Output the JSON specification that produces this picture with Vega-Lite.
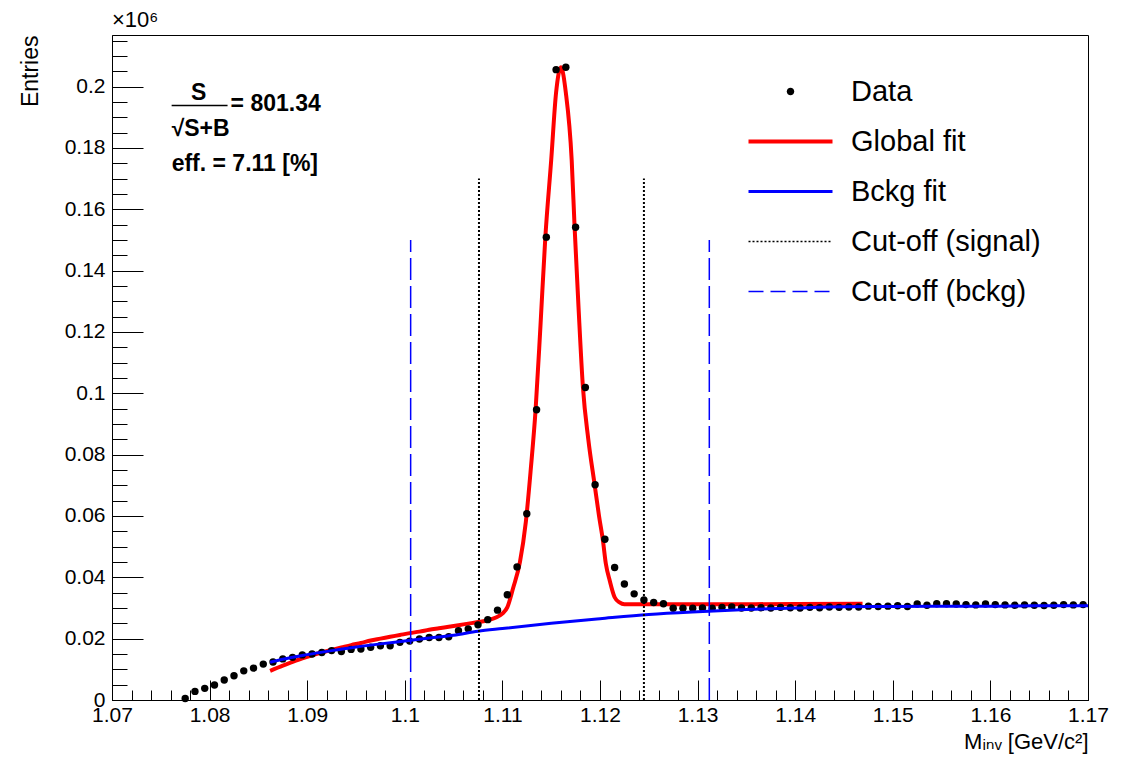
{
  "$schema": "https://vega.github.io/schema/vega-lite/v6.json",
  "width": 976,
  "height": 665,
  "autosize": {"type": "none"},
  "padding": {"left": 112, "top": 35, "right": 48, "bottom": 66},
  "background": "white",
  "config": {
    "view": {"stroke": "#000", "strokeWidth": 1},
    "font": "Liberation Sans",
    "axis": {"grid": false, "tickColor": "#000", "domainColor": "#000", "labelColor": "#000", "titleColor": "#000", "labelFont": "Liberation Sans", "titleFont": "Liberation Sans, DejaVu Sans"}
  },
  "title": {"text": "×10⁶", "anchor": "start", "frame": "group", "fontSize": 22, "fontWeight": "normal", "font": "Liberation Sans, DejaVu Sans", "offset": 3, "color": "#000"},
  "datasets": {
    "points": [
      {"x": 1.0775, "y": 0.0005, "series": "Data"}, {"x": 1.0785, "y": 0.0028, "series": "Data"}, {"x": 1.0795, "y": 0.0038, "series": "Data"}, {"x": 1.0805, "y": 0.0049, "series": "Data"},
      {"x": 1.0815, "y": 0.0065, "series": "Data"}, {"x": 1.0825, "y": 0.0079, "series": "Data"}, {"x": 1.0835, "y": 0.0095, "series": "Data"}, {"x": 1.0845, "y": 0.0104, "series": "Data"},
      {"x": 1.0855, "y": 0.0117, "series": "Data"}, {"x": 1.0865, "y": 0.0124, "series": "Data"}, {"x": 1.0875, "y": 0.0134, "series": "Data"}, {"x": 1.0885, "y": 0.0139, "series": "Data"},
      {"x": 1.0895, "y": 0.0147, "series": "Data"}, {"x": 1.0905, "y": 0.0150, "series": "Data"}, {"x": 1.0915, "y": 0.0155, "series": "Data"}, {"x": 1.0925, "y": 0.0161, "series": "Data"},
      {"x": 1.0935, "y": 0.0158, "series": "Data"}, {"x": 1.0945, "y": 0.0165, "series": "Data"}, {"x": 1.0955, "y": 0.0166, "series": "Data"}, {"x": 1.0965, "y": 0.0172, "series": "Data"},
      {"x": 1.0975, "y": 0.0177, "series": "Data"}, {"x": 1.0985, "y": 0.0177, "series": "Data"}, {"x": 1.0995, "y": 0.0188, "series": "Data"}, {"x": 1.1005, "y": 0.0192, "series": "Data"},
      {"x": 1.1015, "y": 0.0199, "series": "Data"}, {"x": 1.1025, "y": 0.0204, "series": "Data"}, {"x": 1.1035, "y": 0.0204, "series": "Data"}, {"x": 1.1045, "y": 0.0206, "series": "Data"},
      {"x": 1.1055, "y": 0.0226, "series": "Data"}, {"x": 1.1065, "y": 0.0232, "series": "Data"}, {"x": 1.1075, "y": 0.0245, "series": "Data"}, {"x": 1.1085, "y": 0.0262, "series": "Data"},
      {"x": 1.1095, "y": 0.0293, "series": "Data"}, {"x": 1.1105, "y": 0.0343, "series": "Data"}, {"x": 1.1115, "y": 0.0434, "series": "Data"}, {"x": 1.1125, "y": 0.0607, "series": "Data"},
      {"x": 1.1135, "y": 0.0946, "series": "Data"}, {"x": 1.1145, "y": 0.1509, "series": "Data"}, {"x": 1.1155, "y": 0.2055, "series": "Data"}, {"x": 1.1165, "y": 0.2063, "series": "Data"},
      {"x": 1.1175, "y": 0.1541, "series": "Data"}, {"x": 1.1185, "y": 0.1019, "series": "Data"}, {"x": 1.1195, "y": 0.0702, "series": "Data"}, {"x": 1.1205, "y": 0.0524, "series": "Data"},
      {"x": 1.1215, "y": 0.0432, "series": "Data"}, {"x": 1.1225, "y": 0.0378, "series": "Data"}, {"x": 1.1235, "y": 0.0346, "series": "Data"}, {"x": 1.1245, "y": 0.0326, "series": "Data"},
      {"x": 1.1255, "y": 0.0318, "series": "Data"}, {"x": 1.1265, "y": 0.0314, "series": "Data"}, {"x": 1.1275, "y": 0.0299, "series": "Data"}, {"x": 1.1285, "y": 0.0299, "series": "Data"},
      {"x": 1.1295, "y": 0.0299, "series": "Data"}, {"x": 1.1305, "y": 0.0300, "series": "Data"}, {"x": 1.1315, "y": 0.0299, "series": "Data"}, {"x": 1.1325, "y": 0.0302, "series": "Data"},
      {"x": 1.1335, "y": 0.0303, "series": "Data"}, {"x": 1.1345, "y": 0.0300, "series": "Data"}, {"x": 1.1355, "y": 0.0300, "series": "Data"}, {"x": 1.1365, "y": 0.0301, "series": "Data"},
      {"x": 1.1375, "y": 0.0300, "series": "Data"}, {"x": 1.1385, "y": 0.0302, "series": "Data"}, {"x": 1.1395, "y": 0.0301, "series": "Data"}, {"x": 1.1405, "y": 0.0300, "series": "Data"},
      {"x": 1.1415, "y": 0.0302, "series": "Data"}, {"x": 1.1425, "y": 0.0301, "series": "Data"}, {"x": 1.1435, "y": 0.0303, "series": "Data"}, {"x": 1.1445, "y": 0.0302, "series": "Data"},
      {"x": 1.1455, "y": 0.0303, "series": "Data"}, {"x": 1.1465, "y": 0.0303, "series": "Data"}, {"x": 1.1475, "y": 0.0306, "series": "Data"}, {"x": 1.1485, "y": 0.0305, "series": "Data"},
      {"x": 1.1495, "y": 0.0306, "series": "Data"}, {"x": 1.1505, "y": 0.0307, "series": "Data"}, {"x": 1.1515, "y": 0.0305, "series": "Data"}, {"x": 1.1525, "y": 0.0313, "series": "Data"},
      {"x": 1.1535, "y": 0.0309, "series": "Data"}, {"x": 1.1545, "y": 0.0314, "series": "Data"}, {"x": 1.1555, "y": 0.0314, "series": "Data"}, {"x": 1.1565, "y": 0.0313, "series": "Data"},
      {"x": 1.1575, "y": 0.0311, "series": "Data"}, {"x": 1.1585, "y": 0.0310, "series": "Data"}, {"x": 1.1595, "y": 0.0313, "series": "Data"}, {"x": 1.1605, "y": 0.0311, "series": "Data"},
      {"x": 1.1615, "y": 0.0310, "series": "Data"}, {"x": 1.1625, "y": 0.0309, "series": "Data"}, {"x": 1.1635, "y": 0.0310, "series": "Data"}, {"x": 1.1645, "y": 0.0309, "series": "Data"},
      {"x": 1.1655, "y": 0.0308, "series": "Data"}, {"x": 1.1665, "y": 0.0309, "series": "Data"}, {"x": 1.1675, "y": 0.0311, "series": "Data"}, {"x": 1.1685, "y": 0.0310, "series": "Data"},
      {"x": 1.1695, "y": 0.0311, "series": "Data"}
    ],
    "globalfit": [
      {"x": 1.0862, "y": 0.0095, "series": "Global fit"}, {"x": 1.0875, "y": 0.0112, "series": "Global fit"}, {"x": 1.0885, "y": 0.0124, "series": "Global fit"}, {"x": 1.0895, "y": 0.0136, "series": "Global fit"},
      {"x": 1.0905, "y": 0.0146, "series": "Global fit"}, {"x": 1.0915, "y": 0.0155, "series": "Global fit"}, {"x": 1.0925, "y": 0.0163, "series": "Global fit"}, {"x": 1.0935, "y": 0.0171, "series": "Global fit"},
      {"x": 1.0945, "y": 0.0179, "series": "Global fit"}, {"x": 1.0955, "y": 0.0186, "series": "Global fit"}, {"x": 1.0965, "y": 0.0194, "series": "Global fit"}, {"x": 1.0975, "y": 0.0200, "series": "Global fit"},
      {"x": 1.0985, "y": 0.0206, "series": "Global fit"}, {"x": 1.0995, "y": 0.0212, "series": "Global fit"}, {"x": 1.1005, "y": 0.0218, "series": "Global fit"}, {"x": 1.1015, "y": 0.0223, "series": "Global fit"},
      {"x": 1.1025, "y": 0.0229, "series": "Global fit"}, {"x": 1.1035, "y": 0.0234, "series": "Global fit"}, {"x": 1.1045, "y": 0.0239, "series": "Global fit"}, {"x": 1.1055, "y": 0.0244, "series": "Global fit"},
      {"x": 1.1065, "y": 0.0249, "series": "Global fit"}, {"x": 1.1075, "y": 0.0254, "series": "Global fit"}, {"x": 1.1085, "y": 0.0260, "series": "Global fit"}, {"x": 1.1094, "y": 0.0270, "series": "Global fit"},
      {"x": 1.1100, "y": 0.0282, "series": "Global fit"}, {"x": 1.1105, "y": 0.0302, "series": "Global fit"}, {"x": 1.1111, "y": 0.0365, "series": "Global fit"}, {"x": 1.1118, "y": 0.0450, "series": "Global fit"},
      {"x": 1.1124, "y": 0.0580, "series": "Global fit"}, {"x": 1.1129, "y": 0.0750, "series": "Global fit"}, {"x": 1.1134, "y": 0.0946, "series": "Global fit"}, {"x": 1.1139, "y": 0.1220, "series": "Global fit"},
      {"x": 1.1144, "y": 0.1509, "series": "Global fit"}, {"x": 1.1150, "y": 0.1760, "series": "Global fit"}, {"x": 1.1155, "y": 0.1980, "series": "Global fit"}, {"x": 1.1160, "y": 0.2063, "series": "Global fit"},
      {"x": 1.1165, "y": 0.1980, "series": "Global fit"}, {"x": 1.1171, "y": 0.1760, "series": "Global fit"}, {"x": 1.1174, "y": 0.1540, "series": "Global fit"}, {"x": 1.1178, "y": 0.1280, "series": "Global fit"},
      {"x": 1.11825, "y": 0.1020, "series": "Global fit"}, {"x": 1.1188, "y": 0.0850, "series": "Global fit"}, {"x": 1.11945, "y": 0.0702, "series": "Global fit"}, {"x": 1.1199, "y": 0.0600, "series": "Global fit"},
      {"x": 1.1203, "y": 0.0520, "series": "Global fit"}, {"x": 1.1206, "y": 0.0444, "series": "Global fit"}, {"x": 1.1210, "y": 0.0389, "series": "Global fit"}, {"x": 1.1215, "y": 0.0335, "series": "Global fit"},
      {"x": 1.1220, "y": 0.0318, "series": "Global fit"}, {"x": 1.1225, "y": 0.0312, "series": "Global fit"}, {"x": 1.1300, "y": 0.0312, "series": "Global fit"}, {"x": 1.1400, "y": 0.0313, "series": "Global fit"},
      {"x": 1.1469, "y": 0.0314, "series": "Global fit"}
    ],
    "bkgfit": [
      {"x": 1.0862, "y": 0.0123, "series": "Bckg fit"}, {"x": 1.0875, "y": 0.0133, "series": "Bckg fit"}, {"x": 1.0900, "y": 0.0148, "series": "Bckg fit"}, {"x": 1.0925, "y": 0.0161, "series": "Bckg fit"},
      {"x": 1.0950, "y": 0.0173, "series": "Bckg fit"}, {"x": 1.0975, "y": 0.0183, "series": "Bckg fit"}, {"x": 1.1000, "y": 0.0192, "series": "Bckg fit"}, {"x": 1.1025, "y": 0.0202, "series": "Bckg fit"},
      {"x": 1.1050, "y": 0.0211, "series": "Bckg fit"}, {"x": 1.1075, "y": 0.0224, "series": "Bckg fit"}, {"x": 1.1100, "y": 0.0233, "series": "Bckg fit"}, {"x": 1.1150, "y": 0.0250, "series": "Bckg fit"},
      {"x": 1.1200, "y": 0.0265, "series": "Bckg fit"}, {"x": 1.1250, "y": 0.0279, "series": "Bckg fit"}, {"x": 1.1300, "y": 0.0288, "series": "Bckg fit"}, {"x": 1.1350, "y": 0.0295, "series": "Bckg fit"},
      {"x": 1.1400, "y": 0.0300, "series": "Bckg fit"}, {"x": 1.1450, "y": 0.0304, "series": "Bckg fit"}, {"x": 1.1500, "y": 0.0305, "series": "Bckg fit"}, {"x": 1.1550, "y": 0.0306, "series": "Bckg fit"},
      {"x": 1.1600, "y": 0.0306, "series": "Bckg fit"}, {"x": 1.1650, "y": 0.0307, "series": "Bckg fit"}, {"x": 1.1700, "y": 0.0307, "series": "Bckg fit"}
    ],
    "cutsignal": [{"x": 1.1076, "low": 0, "top": 0.17, "series": "Cut-off (signal)"}, {"x": 1.1245, "low": 0, "top": 0.17, "series": "Cut-off (signal)"}],
    "cutbkg": [{"x": 1.1006, "low": 0, "top": 0.15, "series": "Cut-off (bckg)"}, {"x": 1.1312, "low": 0, "top": 0.15, "series": "Cut-off (bckg)"}],
    "fracbar": [{"x": 1.07611, "y": 0.1938}, {"x": 1.08184, "y": 0.1938}],
    "one": [{"k": 1}]
  },
  "layer": [
    {
      "data": {"name": "globalfit"},
      "mark": {"type": "line", "strokeWidth": 4, "interpolate": "monotone"},
      "encoding": {
        "x": {"field": "x", "type": "quantitative",
          "scale": {"domain": [1.07, 1.17], "nice": false, "zero": false},
          "axis": {"values": [1.07, 1.08, 1.09, 1.1, 1.11, 1.12, 1.13, 1.14, 1.15, 1.16, 1.17], "format": "~g",
            "tickSize": -20, "labelPadding": 24, "labelFontSize": 21, "labelFlush": false, "labelOverlap": false,
            "title": "Mᵢₙᵥ [GeV/c²]", "titleAnchor": "end", "titleFontSize": 22, "titleFontWeight": "normal", "titlePadding": 6}},
        "y": {"field": "y", "type": "quantitative",
          "scale": {"domain": [0, 0.2168], "nice": false},
          "axis": {"values": [0, 0.02, 0.04, 0.06, 0.08, 0.1, 0.12, 0.14, 0.16, 0.18, 0.2], "format": "~g",
            "tickSize": -31, "labelPadding": 38, "labelFontSize": 21, "labelFlush": false, "labelOverlap": false,
            "title": "Entries", "titleAnchor": "end", "titleFontSize": 23, "titleFontWeight": "normal", "titlePadding": 22}},
        "color": {"field": "series", "type": "nominal",
          "scale": {"domain": ["Data", "Global fit", "Bckg fit", "Cut-off (signal)", "Cut-off (bckg)"],
                    "range": ["#000000", "#ff0000", "#0000ff", "#000000", "#0000ff"]},
          "legend": {"title": null, "orient": "none", "legendX": 606, "legendY": 34, "direction": "vertical",
            "fillColor": "white", "padding": 8, "symbolSize": 900, "symbolStrokeWidth": 2,
            "symbolOffset": 50, "labelOffset": 46, "rowPadding": 20,
            "labelFontSize": 29, "labelFont": "Liberation Sans", "labelColor": "#000", "labelLimit": 400,
            "labelExpr": "datum.label == 'Cut-off (signal)' ? datum.label + '\u00a0\u00a0\u00a0\u00a0\u00a0\u00a0\u00a0\u00a0\u00a0\u00a0' : datum.label",
            "encode": {"symbols": {"update": {
              "shape": {"signal": "datum.value == 'Data' ? 'M-0.25,0A0.25,0.25 0 1,0 0.25,0A0.25,0.25 0 1,0 -0.25,0Z' : 'M-2.8,0H2.8'"},
              "fill": {"signal": "datum.value == 'Data' ? '#000000' : 'transparent'"},
              "stroke": {"signal": "datum.value == 'Global fit' ? '#ff0000' : (datum.value == 'Bckg fit' || datum.value == 'Cut-off (bckg)') ? '#0000ff' : '#000000'"},
              "strokeWidth": {"signal": "datum.value == 'Data' ? 0 : datum.value == 'Global fit' ? 4 : datum.value == 'Bckg fit' ? 3 : 1.5"},
              "strokeDash": {"signal": "datum.value == 'Cut-off (signal)' ? [2, 2] : datum.value == 'Cut-off (bckg)' ? [15, 7] : [1, 0]"},
              "opacity": {"value": 1}
            }}}}}
      }
    },
    {
      "data": {"name": "points"},
      "mark": {"type": "point", "filled": true, "size": 55, "opacity": 1},
      "encoding": {
        "x": {"field": "x", "type": "quantitative",
          "axis": {"orient": "bottom", "values": [1.07,1.072,1.074,1.076,1.078,1.08,1.082,1.084,1.086,1.088,1.09,1.092,1.094,1.096,1.098,1.1,1.102,1.104,1.106,1.108,1.11,1.112,1.114,1.116,1.118,1.12,1.122,1.124,1.126,1.128,1.13,1.132,1.134,1.136,1.138,1.14,1.142,1.144,1.146,1.148,1.15,1.152,1.154,1.156,1.158,1.16,1.162,1.164,1.166,1.168,1.17],
            "tickSize": -10, "labels": false, "domain": false, "title": null}},
        "y": {"field": "y", "type": "quantitative",
          "axis": {"orient": "left", "values": [0,0.005,0.01,0.015,0.02,0.025,0.03,0.035,0.04,0.045,0.05,0.055,0.06,0.065,0.07,0.075,0.08,0.085,0.09,0.095,0.1,0.105,0.11,0.115,0.12,0.125,0.13,0.135,0.14,0.145,0.15,0.155,0.16,0.165,0.17,0.175,0.18,0.185,0.19,0.195,0.2,0.205,0.21,0.215],
            "tickSize": -15, "labels": false, "domain": false, "title": null}},
        "color": {"field": "series", "type": "nominal"}
      }
    },
    {
      "data": {"name": "bkgfit"},
      "mark": {"type": "line", "strokeWidth": 3, "interpolate": "monotone"},
      "encoding": {
        "x": {"field": "x", "type": "quantitative", "axis": null},
        "y": {"field": "y", "type": "quantitative", "axis": null},
        "color": {"field": "series", "type": "nominal"}
      }
    },
    {
      "data": {"name": "cutsignal"},
      "mark": {"type": "rule", "strokeWidth": 2, "strokeDash": [2, 2]},
      "encoding": {
        "x": {"field": "x", "type": "quantitative", "axis": null},
        "y": {"field": "low", "type": "quantitative", "axis": null},
        "y2": {"field": "top"},
        "color": {"field": "series", "type": "nominal"}
      }
    },
    {
      "data": {"name": "cutbkg"},
      "mark": {"type": "rule", "strokeWidth": 1.5, "strokeDash": [22, 6]},
      "encoding": {
        "x": {"field": "x", "type": "quantitative", "axis": null},
        "y": {"field": "low", "type": "quantitative", "axis": null},
        "y2": {"field": "top"},
        "color": {"field": "series", "type": "nominal"}
      }
    },
    {
      "data": {"name": "fracbar"},
      "mark": {"type": "line", "strokeWidth": 1.5, "color": "#000"},
      "encoding": {
        "x": {"field": "x", "type": "quantitative", "axis": null},
        "y": {"field": "y", "type": "quantitative", "axis": null}
      }
    },
    {
      "data": {"name": "one"},
      "mark": {"type": "text", "text": "S", "fontSize": 23, "fontWeight": "bold", "align": "center", "baseline": "middle", "font": "Liberation Sans", "color": "#000"},
      "encoding": {
        "x": {"datum": 1.07887, "type": "quantitative", "axis": null},
        "y": {"datum": 0.1979, "type": "quantitative", "axis": null}
      }
    },
    {
      "data": {"name": "one"},
      "mark": {"type": "text", "text": "√S+B", "fontSize": 23, "fontWeight": "bold", "align": "left", "baseline": "middle", "font": "Liberation Sans, DejaVu Sans", "color": "#000"},
      "encoding": {
        "x": {"datum": 1.07611, "type": "quantitative", "axis": null},
        "y": {"datum": 0.1862, "type": "quantitative", "axis": null}
      }
    },
    {
      "data": {"name": "one"},
      "mark": {"type": "text", "text": "= 801.34", "fontSize": 23, "fontWeight": "bold", "align": "left", "baseline": "middle", "font": "Liberation Sans", "color": "#000"},
      "encoding": {
        "x": {"datum": 1.08215, "type": "quantitative", "axis": null},
        "y": {"datum": 0.1943, "type": "quantitative", "axis": null}
      }
    },
    {
      "data": {"name": "one"},
      "mark": {"type": "text", "text": "eff. = 7.11 [%]", "fontSize": 23, "fontWeight": "bold", "align": "left", "baseline": "middle", "font": "Liberation Sans", "color": "#000"},
      "encoding": {
        "x": {"datum": 1.07611, "type": "quantitative", "axis": null},
        "y": {"datum": 0.1749, "type": "quantitative", "axis": null}
      }
    }
  ],
  "resolve": {"axis": {"x": "independent", "y": "independent"}}
}
